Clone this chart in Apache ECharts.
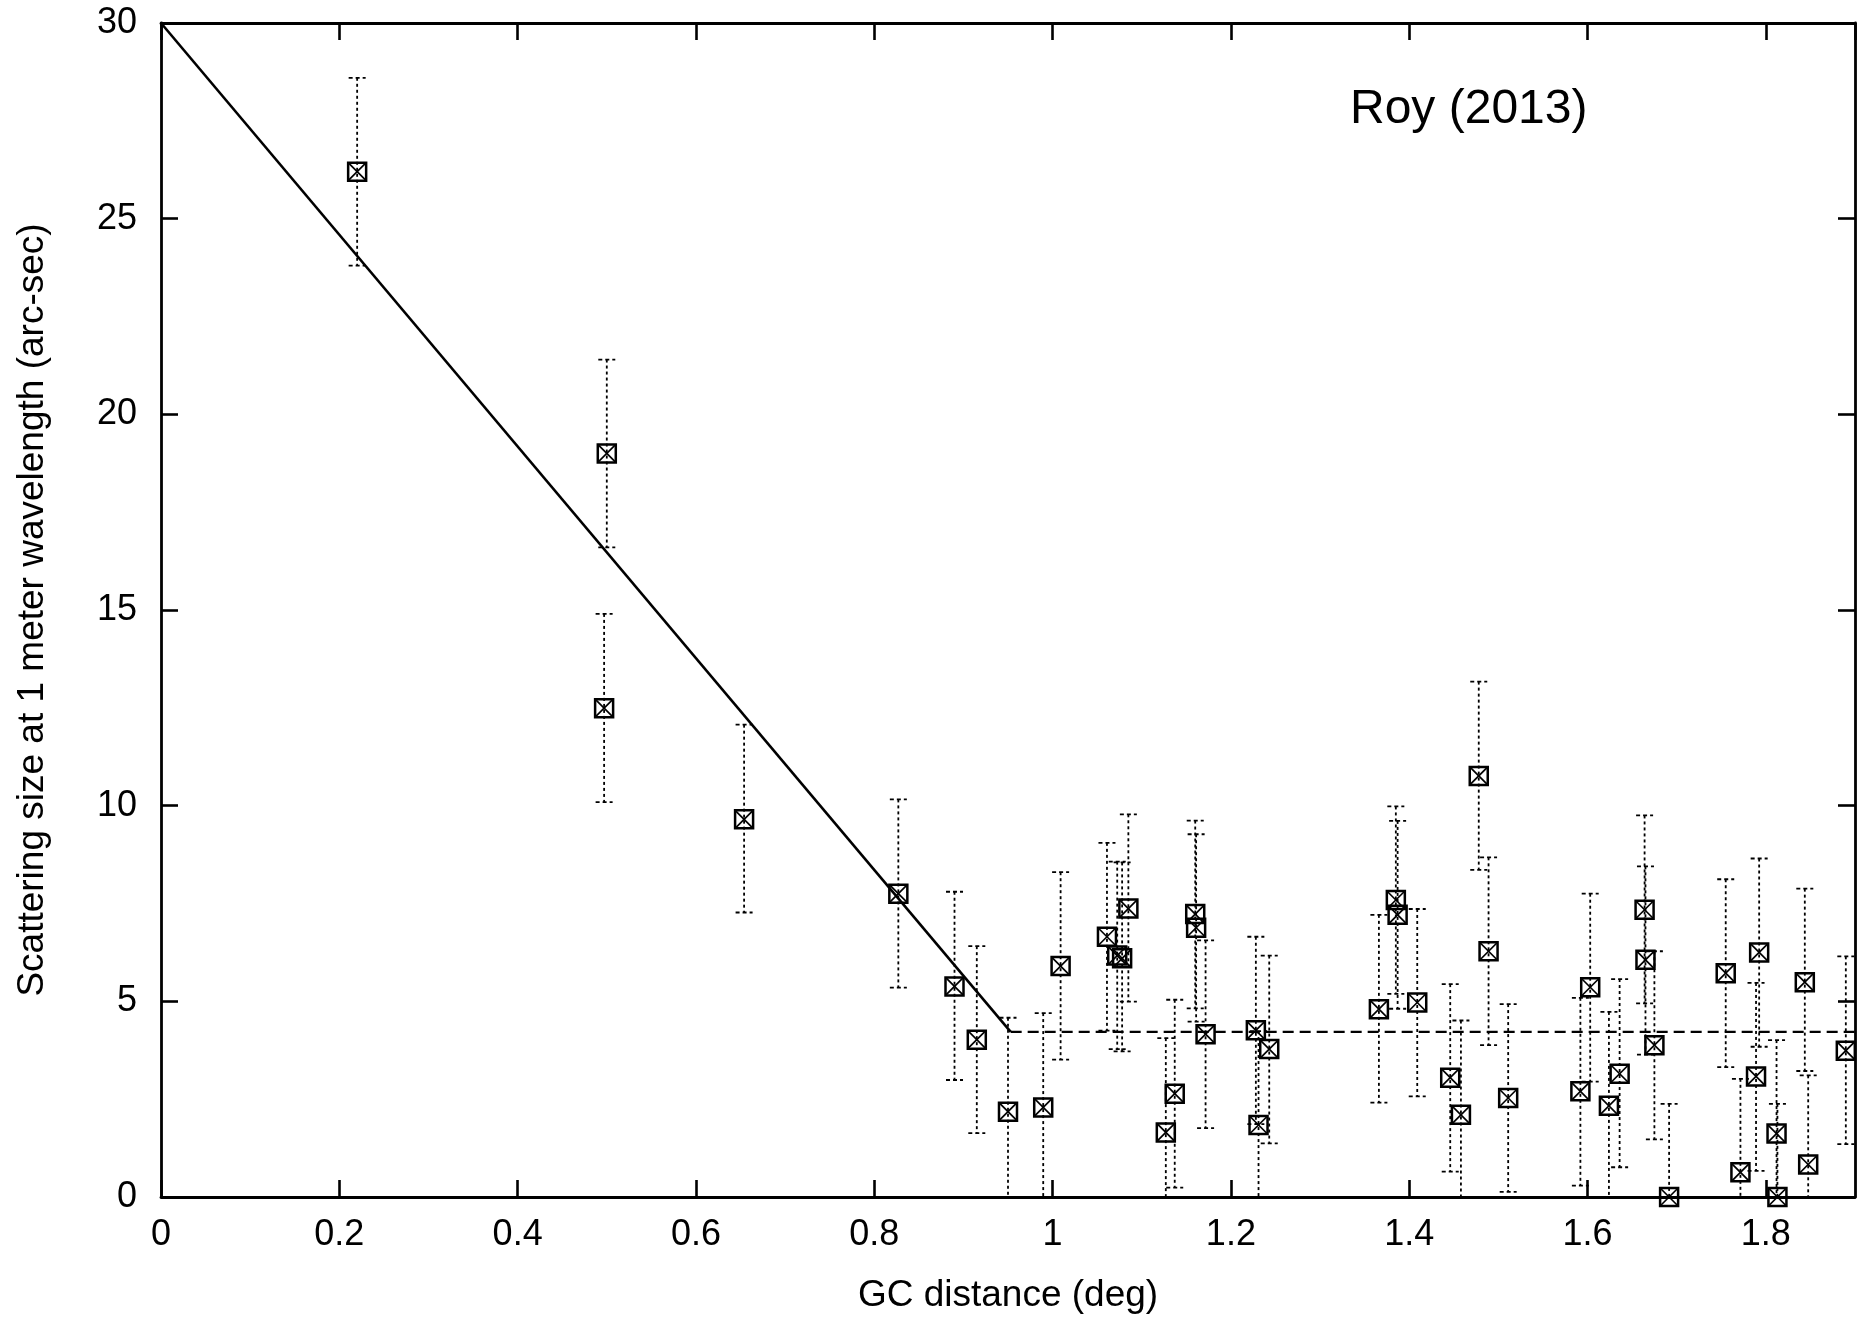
<!DOCTYPE html>
<html>
<head>
<meta charset="utf-8">
<script src="https://cdn.jsdelivr.net/npm/echarts@6/dist/echarts.min.js"></script>
<style>
  html, body { margin: 0; padding: 0; background: #fff; }
  #chart { width: 1862px; height: 1319px; }
</style>
</head>
<body>
<div id="chart"></div>
<script>
// ---- Data ----
const gcDistance = [0.220, 0.497, 0.500, 0.654, 0.827, 0.890, 0.915, 0.950, 0.9895, 1.009,
  1.061, 1.0725, 1.078, 1.085, 1.127, 1.137, 1.160, 1.161, 1.1716, 1.228,
  1.231, 1.243, 1.366, 1.385, 1.387, 1.409, 1.446, 1.458, 1.478, 1.489,
  1.511, 1.592, 1.603, 1.624, 1.636, 1.664, 1.665, 1.675, 1.6915, 1.755,
  1.7715, 1.789, 1.7925, 1.812, 1.813, 1.8437, 1.8475, 1.8897];
const scatterSize = [26.2, 12.49, 19.0, 9.65, 7.75, 5.38, 4.02, 2.18, 2.29, 5.90,
  6.65, 6.17, 6.10, 7.37, 1.65, 2.64, 7.23, 6.88, 4.16, 4.26,
  1.84, 3.78, 4.80, 7.59, 7.21, 4.97, 3.05, 2.10, 10.76, 6.28,
  2.53, 2.70, 5.36, 2.33, 3.15, 7.34, 6.06, 3.88, 0.0, 5.72,
  0.63, 3.08, 6.25, 1.62, 0.0, 5.49, 0.83, 3.74];
const errLow = [23.8, 10.09, 16.6, 7.27, 5.35, 2.99, 1.63, -0.22, -0.11, 3.51,
  4.25, 3.78, 3.72, 4.99, -0.75, 0.24, 4.82, 4.48, 1.76, 1.86,
  -0.56, 1.37, 2.41, 5.19, 4.81, 2.57, 0.65, -0.30, 8.36, 3.88,
  0.13, 0.29, 2.95, -0.07, 0.76, 4.95, 3.64, 1.47, -2.38, 3.32,
  -1.77, 0.67, 3.84, -0.78, -2.38, 3.22, -1.57, 1.35];
const errHigh = [28.6, 14.9, 21.4, 12.07, 10.16, 7.80, 6.41, 4.58, 4.70, 8.30,
  9.05, 8.57, 8.55, 9.78, 4.06, 5.04, 9.62, 9.27, 6.56, 6.65,
  4.24, 6.17, 7.21, 9.98, 9.61, 7.36, 5.44, 4.51, 13.17, 8.68,
  4.93, 5.09, 7.75, 4.73, 5.57, 9.75, 8.45, 6.28, 2.38, 8.12,
  3.02, 5.47, 8.65, 4.01, 2.38, 7.88, 3.11, 6.15];

// Fit lines (solid slope, dashed plateau)
const fitSlopeX = [0, 0.953];
const fitSlopeY = [30, 4.22];
const fitFlatX = [0.953, 1.9];
const fitFlatY = [4.22, 4.22];

const xTickInterval = 0.2;
const yTickInterval = 5;
const annotation = 'Roy (2013)';
const xTitle = 'GC distance (deg)';
const yTitle = 'Scattering size at 1 meter wavelength (arc-sec)';

// ---- Build ----
const FONT = '"Liberation Sans", Helvetica, Arial, sans-serif';
const errData = gcDistance.map((x, i) => [x, errLow[i], errHigh[i]]);
const ptData = gcDistance.map((x, i) => [x, scatterSize[i]]);

const axisLineStyle = { color: '#000', width: 2.8 };
const tickStyle = { color: '#000', width: 2.6 };

const chart = echarts.init(document.getElementById('chart'), null, { renderer: 'canvas' });

const option = {
  animation: false,
  backgroundColor: '#fff',
  grid: { left: 161, top: 23, right: 7, bottom: 115, containLabel: false },
  xAxis: [{
    type: 'value', min: 0, max: 1.9, interval: xTickInterval,
    position: 'bottom',
    name: xTitle, nameLocation: 'middle', nameGap: 80,
    nameTextStyle: { color: '#000', fontSize: 37, fontFamily: FONT },
    axisLine: { show: true, onZero: false, lineStyle: axisLineStyle },
    axisTick: { show: true, inside: true, length: 17, lineStyle: tickStyle },
    axisLabel: { color: '#000', fontSize: 36, fontFamily: FONT, margin: 20, showMaxLabel: false },
    splitLine: { show: false }
  }, {
    type: 'value', min: 0, max: 1.9, interval: xTickInterval,
    position: 'top',
    axisLine: { show: true, onZero: false, lineStyle: axisLineStyle },
    axisTick: { show: true, inside: true, length: 17, lineStyle: tickStyle },
    axisLabel: { show: false },
    splitLine: { show: false }
  }],
  yAxis: [{
    type: 'value', min: 0, max: 30, interval: yTickInterval,
    position: 'left',
    name: yTitle, nameLocation: 'middle', nameGap: 110,
    nameTextStyle: { color: '#000', fontSize: 37, fontFamily: FONT },
    axisLine: { show: true, onZero: false, lineStyle: axisLineStyle },
    axisTick: { show: true, inside: true, length: 17, lineStyle: tickStyle },
    axisLabel: { color: '#000', fontSize: 36, fontFamily: FONT, margin: 24 },
    splitLine: { show: false }
  }, {
    type: 'value', min: 0, max: 30, interval: yTickInterval,
    position: 'right',
    axisLine: { show: true, onZero: false, lineStyle: axisLineStyle },
    axisTick: { show: true, inside: true, length: 17, lineStyle: tickStyle },
    axisLabel: { show: false },
    splitLine: { show: false }
  }],
  graphic: [{
    type: 'text', left: 1350, top: 86, z: 100,
    style: { text: annotation, fill: '#000', font: '48px ' + FONT }
  }],
  series: [
    {
      type: 'line', name: 'fit',
      data: fitSlopeX.map((x, i) => [x, fitSlopeY[i]]),
      showSymbol: false, symbol: 'none',
      lineStyle: { color: '#000', width: 2.6, type: 'solid' },
      z: 3
    },
    {
      type: 'line', name: 'fit-flat',
      data: fitFlatX.map((x, i) => [x, fitFlatY[i]]),
      showSymbol: false, symbol: 'none',
      lineStyle: { color: '#000', width: 2.2, type: [11, 6] },
      z: 3
    },
    {
      type: 'custom', name: 'errors', clip: true, z: 2,
      data: errData,
      encode: { x: 0, y: [1, 2] },
      renderItem: function (params, api) {
        const x = api.value(0), lo = api.value(1), hi = api.value(2);
        const pHi = api.coord([x, hi]);
        const pLo = api.coord([x, Math.max(lo, 0)]);
        const st = { stroke: '#000', lineWidth: 1.8, lineDash: [3, 3], fill: null };
        const cap = { stroke: '#000', lineWidth: 1.8, lineDash: [4, 3], fill: null };
        const half = 8.5;
        const children = [
          { type: 'line', shape: { x1: pHi[0], y1: pHi[1], x2: pLo[0], y2: pLo[1] }, style: st },
          { type: 'line', shape: { x1: pHi[0] - half, y1: pHi[1], x2: pHi[0] + half, y2: pHi[1] }, style: cap }
        ];
        if (lo >= 0) {
          children.push({ type: 'line', shape: { x1: pLo[0] - half, y1: pLo[1], x2: pLo[0] + half, y2: pLo[1] }, style: cap });
        }
        return { type: 'group', children: children };
      }
    },
    {
      type: 'custom', name: 'points', clip: false, z: 4,
      data: ptData,
      encode: { x: 0, y: 1 },
      renderItem: function (params, api) {
        const p = api.coord([api.value(0), api.value(1)]);
        const h = 9;
        const box = { stroke: '#000', lineWidth: 2.5, fill: null };
        const xs = { stroke: '#000', lineWidth: 1.7, fill: null };
        return {
          type: 'group',
          children: [
            { type: 'rect', shape: { x: p[0] - h, y: p[1] - h, width: 2 * h, height: 2 * h }, style: box },
            { type: 'line', shape: { x1: p[0] - h, y1: p[1] - h, x2: p[0] + h, y2: p[1] + h }, style: xs },
            { type: 'line', shape: { x1: p[0] + h, y1: p[1] - h, x2: p[0] - h, y2: p[1] + h }, style: xs }
          ]
        };
      }
    }
  ]
};
chart.setOption(option);
</script>
</body>
</html>
